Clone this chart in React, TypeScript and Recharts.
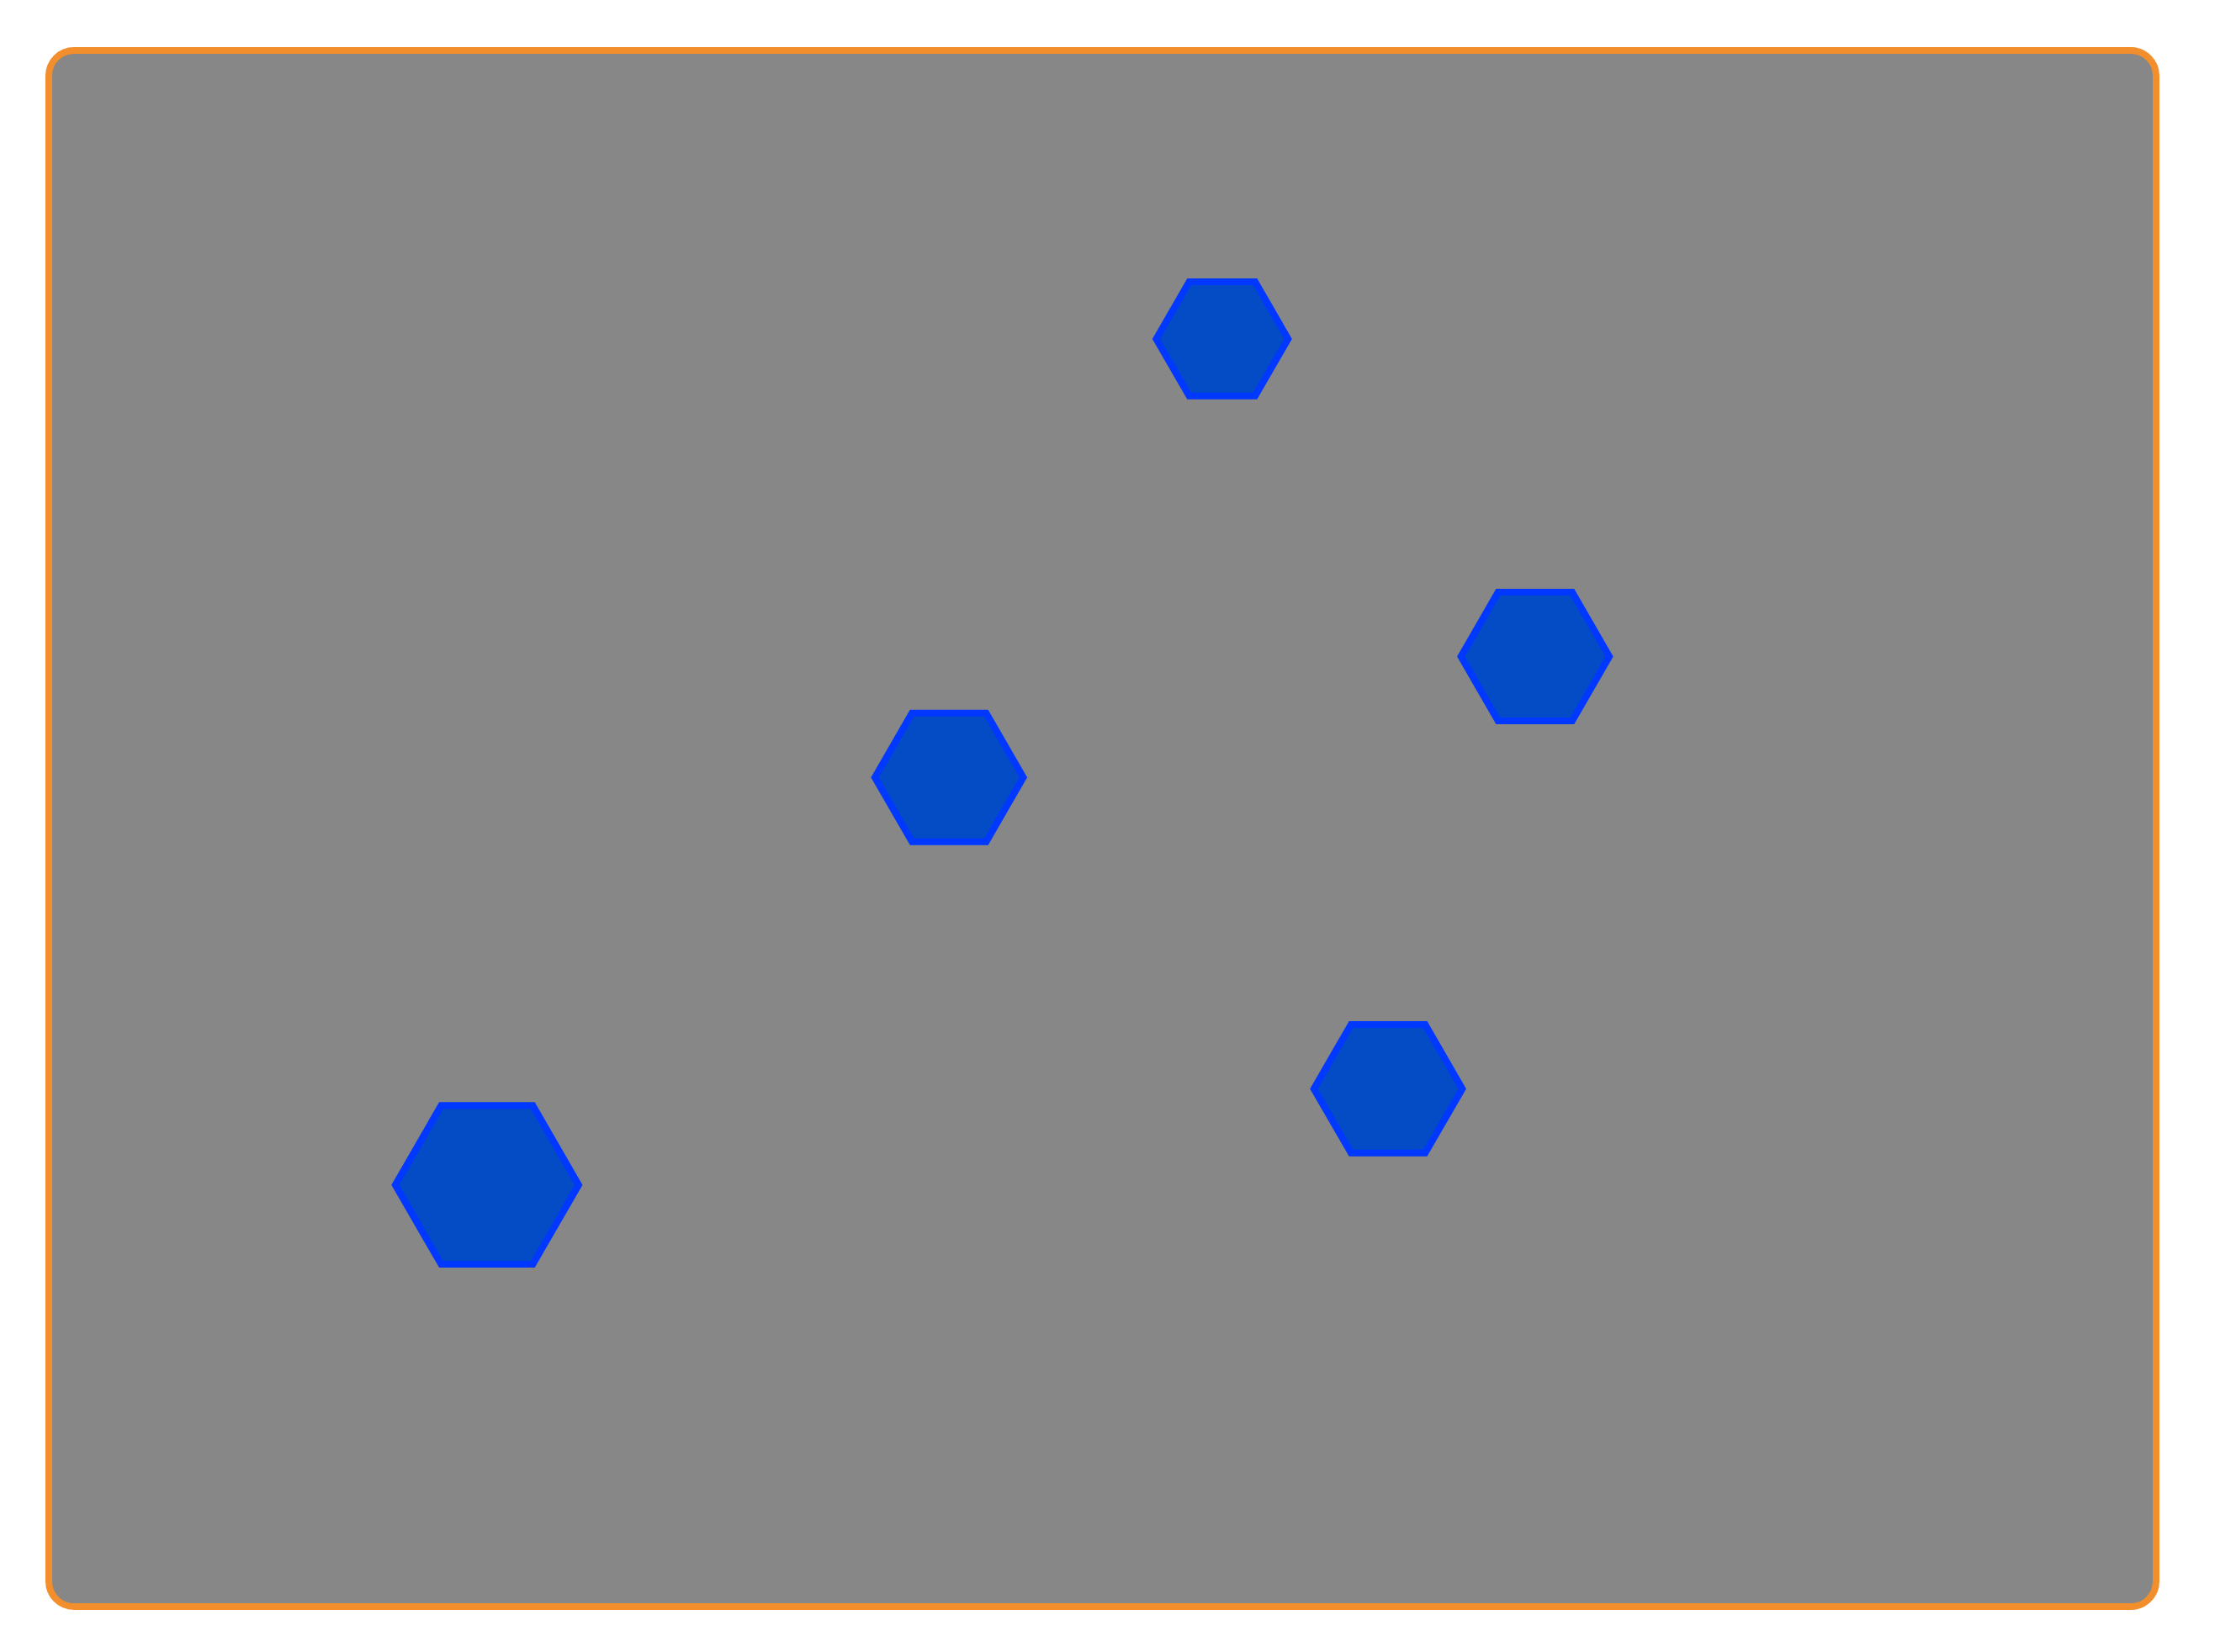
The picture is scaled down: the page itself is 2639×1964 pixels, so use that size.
import { Scatter, ScatterChart, XAxis, YAxis, ZAxis } from "recharts";

const xValues = [55.7, 70.6, 42.7, 63.6, 20.7];
const yValues = [81.6, 61.1, 53.3, 33.2, 27.0];
const zValues = [30, 38, 38, 38, 58];

const points = xValues.map((x, i) => ({ x, y: yValues[i], z: zValues[i] }));

// flat-top hexagon, area from the z axis
function Hexagon(props: any) {
  const { cx, cy, size, fill, stroke } = props;
  if (cx == null || cy == null) return null;
  const r = Math.sqrt(size ?? 0);
  const pts = [0, 1, 2, 3, 4, 5]
    .map((k) => {
      const a = (Math.PI / 3) * k;
      return `${cx + r * Math.cos(a)},${cy + r * Math.sin(a)}`;
    })
    .join(" ");
  return (
    <polygon
      points={pts}
      fill={fill}
      stroke={stroke}
      strokeWidth={8}
      strokeLinejoin="miter"
    />
  );
}

export default function App() {
  return (
    <div
      style={{
        position: "absolute",
        left: 54,
        top: 56,
        width: 2497,
        height: 1842,
        background: "#878787",
        border: "8px solid #f28e2b",
        borderRadius: 34,
      }}
    >
      <ScatterChart width={2497} height={1842} margin={{ top: 0, right: 0, bottom: 0, left: 0 }}>
        <XAxis type="number" dataKey="x" domain={[0, 100]} hide />
        <YAxis type="number" dataKey="y" domain={[0, 100]} hide />
        <ZAxis type="number" dataKey="z" domain={[0, 60]} range={[0, 12294]} />
        <Scatter
          data={points}
          fill="#044bc6"
          stroke="#0038ff"
          shape={<Hexagon />}
          isAnimationActive={false}
        />
      </ScatterChart>
    </div>
  );
}
